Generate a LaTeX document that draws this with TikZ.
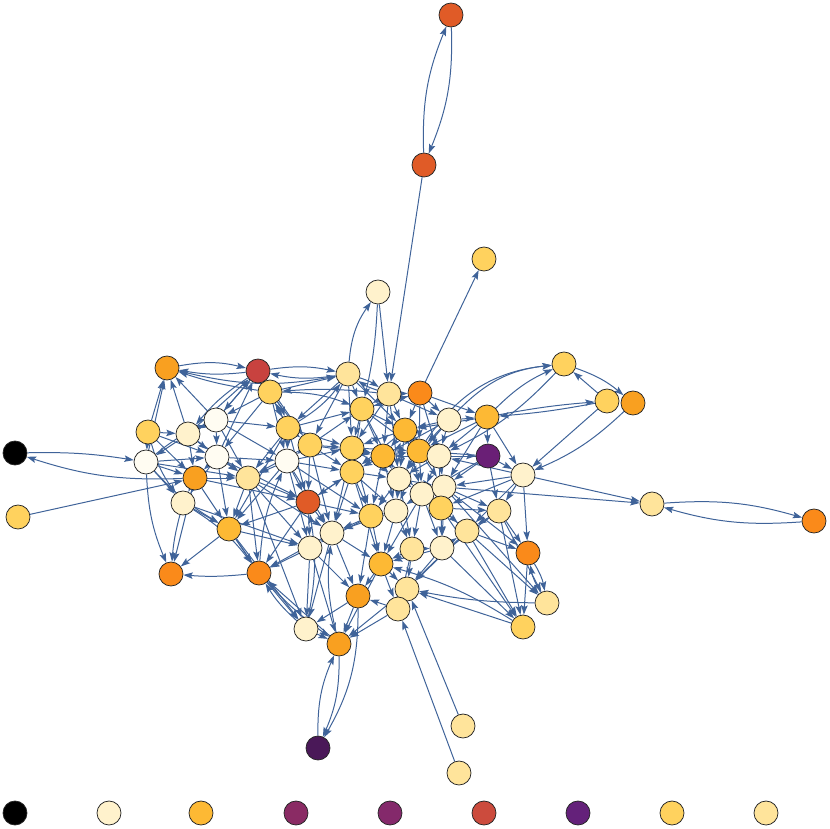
\documentclass[tikz,border=0pt]{standalone}
\usetikzlibrary{arrows.meta,backgrounds}

\definecolor{linkblue}{HTML}{3F6399}
\definecolor{cwhite}{HTML}{FFFCF2}
\definecolor{ccream}{HTML}{FFF2CC}
\definecolor{clight}{HTML}{FFE49B}
\definecolor{cyellow}{HTML}{FFD25E}
\definecolor{cgold}{HTML}{FDB934}
\definecolor{camber}{HTML}{F9A020}
\definecolor{corange}{HTML}{FA8A1A}
\definecolor{cvermil}{HTML}{E05B27}
\definecolor{cred}{HTML}{C8423F}
\definecolor{cpurple}{HTML}{6A1F76}
\definecolor{cplum}{HTML}{4A1858}
\definecolor{cmagenta}{HTML}{8A2B64}
\definecolor{cmagentb}{HTML}{84296B}
\definecolor{credb}{HTML}{CC4B3D}
\definecolor{cpurpleb}{HTML}{64217A}

\begin{document}
\begin{tikzpicture}[x=0.03cm, y=-0.03cm,
    vertex/.style={circle, draw=black!85, line width=0.65pt, minimum size=0.72cm, inner sep=0pt},
    link/.style={draw=linkblue, line width=0.85pt, -{Stealth[length=8pt,width=5.5pt,inset=1.5pt]}}]
    \useasboundingbox (0,0) rectangle (830,828);

    \node[vertex, fill=cvermil] (v1) at (451, 15) {};
    \node[vertex, fill=cvermil] (v2) at (424, 165) {};
    \node[vertex, fill=cyellow] (v3) at (484, 259) {};
    \node[vertex, fill=ccream] (v4) at (378, 292) {};
    \node[vertex, fill=camber] (v5) at (167, 368) {};
    \node[vertex, fill=cred] (v6) at (258, 371) {};
    \node[vertex, fill=cyellow] (v7) at (270, 392) {};
    \node[vertex, fill=clight] (v8) at (348, 374) {};
    \node[vertex, fill=clight] (v9) at (389, 394) {};
    \node[vertex, fill=corange] (v10) at (420, 393) {};
    \node[vertex, fill=cyellow] (v11) at (564, 364) {};
    \node[vertex, fill=cyellow] (v12) at (607, 401) {};
    \node[vertex, fill=camber] (v13) at (633, 403) {};
    \node[vertex, fill=cyellow] (v14) at (362, 409) {};
    \node[vertex, fill=ccream] (v15) at (449, 420) {};
    \node[vertex, fill=cgold] (v16) at (487, 417) {};
    \node[vertex, fill=cwhite] (v17) at (216, 420) {};
    \node[vertex, fill=cyellow] (v18) at (148, 432) {};
    \node[vertex, fill=ccream] (v19) at (188, 434) {};
    \node[vertex, fill=cyellow] (v20) at (288, 428) {};
    \node[vertex, fill=cyellow] (v21) at (310, 445) {};
    \node[vertex, fill=cgold] (v22) at (405, 430) {};
    \node[vertex, fill=black] (v23) at (15, 453) {};
    \node[vertex, fill=cwhite] (v24) at (146, 462) {};
    \node[vertex, fill=cwhite] (v25) at (217, 457) {};
    \node[vertex, fill=cwhite] (v26) at (287, 461) {};
    \node[vertex, fill=cyellow] (v27) at (352, 448) {};
    \node[vertex, fill=cgold] (v28) at (383, 456) {};
    \node[vertex, fill=cgold] (v29) at (419, 451) {};
    \node[vertex, fill=ccream] (v30) at (439, 456) {};
    \node[vertex, fill=cpurple] (v31) at (488, 456) {};
    \node[vertex, fill=cyellow] (v32) at (352, 472) {};
    \node[vertex, fill=ccream] (v33) at (399, 479) {};
    \node[vertex, fill=ccream] (v34) at (523, 475) {};
    \node[vertex, fill=camber] (v35) at (195, 478) {};
    \node[vertex, fill=clight] (v36) at (248, 478) {};
    \node[vertex, fill=ccream] (v37) at (422, 494) {};
    \node[vertex, fill=ccream] (v38) at (444, 487) {};
    \node[vertex, fill=ccream] (v39) at (183, 503) {};
    \node[vertex, fill=cvermil] (v40) at (308, 502) {};
    \node[vertex, fill=cyellow] (v41) at (18, 517) {};
    \node[vertex, fill=cyellow] (v42) at (441, 508) {};
    \node[vertex, fill=clight] (v43) at (499, 511) {};
    \node[vertex, fill=cyellow] (v44) at (371, 516) {};
    \node[vertex, fill=ccream] (v45) at (396, 511) {};
    \node[vertex, fill=ccream] (v46) at (332, 533) {};
    \node[vertex, fill=cgold] (v47) at (229, 529) {};
    \node[vertex, fill=clight] (v48) at (652, 504) {};
    \node[vertex, fill=corange] (v49) at (814, 521) {};
    \node[vertex, fill=ccream] (v50) at (310, 548) {};
    \node[vertex, fill=clight] (v51) at (412, 549) {};
    \node[vertex, fill=ccream] (v52) at (442, 548) {};
    \node[vertex, fill=clight] (v53) at (467, 531) {};
    \node[vertex, fill=cgold] (v54) at (381, 564) {};
    \node[vertex, fill=corange] (v55) at (528, 553) {};
    \node[vertex, fill=corange] (v56) at (171, 574) {};
    \node[vertex, fill=corange] (v57) at (259, 573) {};
    \node[vertex, fill=camber] (v58) at (358, 596) {};
    \node[vertex, fill=clight] (v59) at (407, 589) {};
    \node[vertex, fill=clight] (v60) at (398, 609) {};
    \node[vertex, fill=clight] (v61) at (547, 603) {};
    \node[vertex, fill=cyellow] (v62) at (523, 627) {};
    \node[vertex, fill=ccream] (v63) at (306, 629) {};
    \node[vertex, fill=camber] (v64) at (339, 644) {};
    \node[vertex, fill=cplum] (v65) at (318, 748) {};
    \node[vertex, fill=clight] (v66) at (463, 726) {};
    \node[vertex, fill=clight] (v67) at (459, 773) {};

    \node[vertex, fill=black] (l1) at (15, 813) {};
    \node[vertex, fill=ccream] (l2) at (109, 813) {};
    \node[vertex, fill=cgold] (l3) at (201, 813) {};
    \node[vertex, fill=cmagenta] (l4) at (296, 813) {};
    \node[vertex, fill=cmagentb] (l5) at (390, 813) {};
    \node[vertex, fill=credb] (l6) at (484, 813) {};
    \node[vertex, fill=cpurpleb] (l7) at (578, 813) {};
    \node[vertex, fill=cyellow] (l8) at (672, 813) {};
    \node[vertex, fill=clight] (l9) at (766, 813) {};

    \begin{scope}[on background layer]
    \draw[link] (v2) to[bend left=12] (v1);
    \draw[link] (v1) to[bend left=12] (v2);
    \draw[link] (v2) -- (v9);
    \draw[link] (v10) -- (v3);
    \draw[link] (v8) to[bend left=15] (v4);
    \draw[link] (v4) -- (v9);
    \draw[link] (v4) to[bend left=5] (v14);
    \draw[link] (v23) to[bend left=5] (v24);
    \draw[link] (v35) to[bend left=10] (v23);
    \draw[link] (v41) -- (v35);
    \draw[link] (v34) -- (v48);
    \draw[link] (v38) -- (v48);
    \draw[link] (v48) to[bend left=10] (v49);
    \draw[link] (v49) to[bend left=10] (v48);
    \draw[link] (v34) -- (v55);
    \draw[link] (v16) to[bend left=3] (v12);
    \draw[link] (v12) to[bend left=3] (v16);
    \draw[link] (v12) -- (v11);
    \draw[link] (v11) to[bend left=10] (v13);
    \draw[link] (v13) to[bend left=10] (v34);
    \draw[link] (v12) -- (v34);
    \draw[link] (v15) to[bend left=20] (v11);
    \draw[link] (v16) to[bend left=10] (v11);
    \draw[link] (v11) to[bend left=10] (v30);
    \draw[link] (v29) to[bend left=25] (v11);
    \draw[link] (v55) to[bend left=10] (v61);
    \draw[link] (v61) to[bend left=10] (v55);
    \draw[link] (v55) -- (v62);
    \draw[link] (v61) to[bend left=5] (v59);
    \draw[link] (v62) -- (v59);
    \draw[link] (v43) -- (v62);
    \draw[link] (v53) -- (v62);
    \draw[link] (v52) -- (v62);
    \draw[link] (v43) -- (v61);
    \draw[link] (v42) -- (v61);
    \draw[link] (v38) -- (v55);
    \draw[link] (v43) -- (v55);
    \draw[link] (v53) -- (v55);
    \draw[link] (v66) -- (v59);
    \draw[link] (v67) -- (v60);
    \draw[link] (v65) to[bend left=12] (v64);
    \draw[link] (v64) to[bend left=12] (v65);
    \draw[link] (v58) to[bend left=15] (v65);
    \draw[link] (v39) to[bend right=5] (v56);
    \draw[link] (v24) to[bend right=10] (v56);
    \draw[link] (v47) -- (v56);
    \draw[link] (v35) -- (v56);
    \draw[link] (v57) to[bend left=5] (v56);
    \draw[link] (v57) -- (v63);
    \draw[link] (v64) -- (v57);
    \draw[link] (v63) to[bend left=8] (v57);
    \draw[link] (v36) -- (v57);
    \draw[link] (v40) -- (v57);
    \draw[link] (v47) -- (v57);
    \draw[link] (v46) -- (v57);
    \draw[link] (v50) -- (v57);
    \draw[link] (v18) -- (v5);
    \draw[link] (v24) -- (v5);
    \draw[link] (v17) -- (v5);
    \draw[link] (v19) -- (v5);
    \draw[link] (v5) to[bend left=12] (v6);
    \draw[link] (v6) to[bend left=8] (v5);
    \draw[link] (v7) to[bend left=5] (v5);
    \draw[link] (v6) to[bend left=10] (v8);
    \draw[link] (v8) to[bend left=10] (v6);
    \draw[link] (v9) to[bend right=5] (v7);
    \draw[link] (v7) -- (v8);
    \draw[link] (v5) to[bend right=12] (v8);
    \draw[link] (v17) -- (v6);
    \draw[link] (v19) -- (v6);
    \draw[link] (v25) -- (v6);
    \draw[link] (v7) -- (v6);
    \draw[link] (v9) -- (v14);
    \draw[link] (v9) -- (v22);
    \draw[link] (v9) -- (v28);
    \draw[link] (v9) -- (v15);
    \draw[link] (v9) -- (v27);
    \draw[link] (v10) -- (v15);
    \draw[link] (v10) -- (v22);
    \draw[link] (v10) -- (v29);
    \draw[link] (v14) -- (v10);
    \draw[link] (v14) -- (v22);
    \draw[link] (v14) -- (v27);
    \draw[link] (v14) -- (v28);
    \draw[link] (v20) -- (v14);
    \draw[link] (v21) -- (v14);
    \draw[link] (v8) -- (v14);
    \draw[link] (v8) -- (v27);
    \draw[link] (v8) -- (v22);
    \draw[link] (v15) -- (v16);
    \draw[link] (v15) -- (v30);
    \draw[link] (v16) -- (v29);
    \draw[link] (v16) -- (v30);
    \draw[link] (v16) -- (v31);
    \draw[link] (v31) -- (v28);
    \draw[link] (v31) -- (v29);
    \draw[link] (v31) -- (v34);
    \draw[link] (v34) -- (v30);
    \draw[link] (v34) -- (v38);
    \draw[link] (v34) -- (v42);
    \draw[link] (v34) -- (v43);
    \draw[link] (v17) -- (v19);
    \draw[link] (v17) -- (v20);
    \draw[link] (v17) -- (v25);
    \draw[link] (v18) -- (v19);
    \draw[link] (v18) -- (v24);
    \draw[link] (v19) -- (v24);
    \draw[link] (v19) -- (v25);
    \draw[link] (v24) -- (v25);
    \draw[link] (v24) -- (v35);
    \draw[link] (v24) -- (v39);
    \draw[link] (v18) -- (v35);
    \draw[link] (v20) -- (v21);
    \draw[link] (v20) -- (v26);
    \draw[link] (v20) -- (v7);
    \draw[link] (v7) -- (v21);
    \draw[link] (v7) -- (v25);
    \draw[link] (v7) -- (v17);
    \draw[link] (v7) to[bend left=10] (v14);
    \draw[link] (v6) -- (v20);
    \draw[link] (v20) to[bend right=10] (v8);
    \draw[link] (v21) -- (v26);
    \draw[link] (v21) -- (v27);
    \draw[link] (v21) -- (v28);
    \draw[link] (v21) -- (v40);
    \draw[link] (v22) -- (v27);
    \draw[link] (v22) -- (v28);
    \draw[link] (v22) -- (v29);
    \draw[link] (v22) -- (v30);
    \draw[link] (v22) -- (v33);
    \draw[link] (v25) -- (v35);
    \draw[link] (v25) -- (v36);
    \draw[link] (v25) -- (v26);
    \draw[link] (v26) -- (v36);
    \draw[link] (v26) -- (v40);
    \draw[link] (v26) -- (v32);
    \draw[link] (v26) -- (v27);
    \draw[link] (v27) -- (v32);
    \draw[link] (v27) -- (v28);
    \draw[link] (v28) -- (v33);
    \draw[link] (v28) -- (v32);
    \draw[link] (v29) -- (v30);
    \draw[link] (v29) -- (v33);
    \draw[link] (v29) -- (v38);
    \draw[link] (v30) -- (v38);
    \draw[link] (v30) -- (v37);
    \draw[link] (v32) -- (v40);
    \draw[link] (v32) -- (v44);
    \draw[link] (v32) -- (v46);
    \draw[link] (v33) -- (v37);
    \draw[link] (v33) -- (v44);
    \draw[link] (v33) -- (v45);
    \draw[link] (v37) -- (v42);
    \draw[link] (v37) -- (v45);
    \draw[link] (v38) -- (v42);
    \draw[link] (v38) -- (v43);
    \draw[link] (v42) -- (v43);
    \draw[link] (v42) -- (v53);
    \draw[link] (v35) -- (v36);
    \draw[link] (v35) -- (v39);
    \draw[link] (v35) -- (v47);
    \draw[link] (v36) -- (v47);
    \draw[link] (v36) -- (v40);
    \draw[link] (v39) -- (v47);
    \draw[link] (v40) -- (v46);
    \draw[link] (v40) -- (v50);
    \draw[link] (v40) -- (v47);
    \draw[link] (v44) -- (v46);
    \draw[link] (v44) -- (v54);
    \draw[link] (v45) -- (v51);
    \draw[link] (v45) -- (v54);
    \draw[link] (v46) -- (v50);
    \draw[link] (v46) -- (v54);
    \draw[link] (v50) -- (v63);
    \draw[link] (v50) -- (v64);
    \draw[link] (v51) -- (v54);
    \draw[link] (v51) -- (v59);
    \draw[link] (v52) -- (v53);
    \draw[link] (v52) -- (v59);
    \draw[link] (v42) -- (v52);
    \draw[link] (v54) -- (v58);
    \draw[link] (v54) -- (v59);
    \draw[link] (v58) -- (v64);
    \draw[link] (v59) -- (v60);
    \draw[link] (v60) -- (v58);
    \draw[link] (v58) -- (v63);
    \draw[link] (v63) -- (v64);
    \draw[link] (v60) -- (v64);
    \draw[link] (v59) -- (v64);
    \draw[link] (v54) -- (v64);
    \draw[link] (v47) -- (v50);
    \draw[link] (v36) -- (v50);
    \draw[link] (v28) -- (v45);
    \draw[link] (v27) -- (v44);
    \draw[link] (v37) -- (v51);
    \draw[link] (v38) -- (v52);
    \draw[link] (v15) -- (v29);
    \draw[link] (v15) -- (v22);
    \draw[link] (v16) -- (v38);
    \draw[link] (v31) -- (v37);
    \draw[link] (v20) -- (v47);
    \draw[link] (v26) -- (v47);
    \draw[link] (v39) to[bend left=10] (v57);
    \draw[link] (v57) to[bend left=10] (v26);
    \draw[link] (v63) to[bend right=10] (v40);
    \draw[link] (v64) to[bend left=10] (v46);
    \draw[link] (v62) to[bend right=8] (v54);
    \draw[link] (v43) to[bend right=5] (v59);
    \draw[link] (v24) to[bend left=8] (v17);
    \draw[link] (v17) -- (v26);
    \draw[link] (v17) -- (v36);
    \draw[link] (v18) -- (v25);
    \draw[link] (v18) to[bend right=10] (v39);
    \draw[link] (v19) -- (v35);
    \draw[link] (v19) -- (v36);
    \draw[link] (v24) -- (v36);
    \draw[link] (v24) to[bend right=8] (v47);
    \draw[link] (v25) -- (v39);
    \draw[link] (v25) -- (v47);
    \draw[link] (v25) -- (v40);
    \draw[link] (v26) -- (v50);
    \draw[link] (v26) -- (v46);
    \draw[link] (v20) -- (v40);
    \draw[link] (v20) -- (v27);
    \draw[link] (v20) -- (v36);
    \draw[link] (v21) -- (v32);
    \draw[link] (v21) -- (v36);
    \draw[link] (v7) -- (v26);
    \draw[link] (v7) to[bend left=10] (v20);
    \draw[link] (v6) -- (v21);
    \draw[link] (v6) -- (v17);
    \draw[link] (v6) to[bend right=8] (v19);
    \draw[link] (v8) -- (v20);
    \draw[link] (v8) -- (v21);
    \draw[link] (v8) to[bend left=8] (v9);
    \draw[link] (v9) to[bend left=8] (v8);
    \draw[link] (v9) -- (v10);
    \draw[link] (v10) -- (v14);
    \draw[link] (v14) -- (v29);
    \draw[link] (v14) -- (v33);
    \draw[link] (v22) -- (v32);
    \draw[link] (v22) -- (v37);
    \draw[link] (v27) -- (v33);
    \draw[link] (v27) -- (v46);
    \draw[link] (v27) -- (v29);
    \draw[link] (v28) -- (v29);
    \draw[link] (v28) -- (v37);
    \draw[link] (v28) -- (v44);
    \draw[link] (v29) -- (v37);
    \draw[link] (v29) -- (v45);
    \draw[link] (v30) -- (v42);
    \draw[link] (v30) -- (v33);
    \draw[link] (v32) -- (v33);
    \draw[link] (v32) -- (v45);
    \draw[link] (v33) -- (v38);
    \draw[link] (v33) -- (v51);
    \draw[link] (v37) -- (v52);
    \draw[link] (v37) -- (v54);
    \draw[link] (v44) -- (v45);
    \draw[link] (v44) -- (v50);
    \draw[link] (v45) -- (v46);
    \draw[link] (v46) -- (v58);
    \draw[link] (v46) -- (v63);
    \draw[link] (v50) -- (v58);
    \draw[link] (v51) -- (v52);
    \draw[link] (v51) -- (v60);
    \draw[link] (v52) -- (v54);
    \draw[link] (v53) -- (v59);
    \draw[link] (v54) -- (v60);
    \draw[link] (v40) -- (v32);
    \draw[link] (v40) -- (v44);
    \draw[link] (v36) -- (v46);
    \draw[link] (v47) -- (v63);
    \draw[link] (v47) to[bend right=10] (v64);
    \draw[link] (v36) -- (v63);
    \draw[link] (v39) -- (v50);
    \draw[link] (v35) -- (v40);
    \draw[link] (v15) -- (v28);
    \draw[link] (v15) -- (v33);
    \draw[link] (v16) -- (v22);
    \draw[link] (v16) -- (v34);
    \draw[link] (v30) -- (v31);
    \draw[link] (v31) -- (v38);
    \draw[link] (v31) -- (v43);
    \draw[link] (v34) -- (v53);
    \draw[link] (v43) -- (v53);
    \draw[link] (v42) -- (v62);
    \draw[link] (v38) -- (v61);
    \draw[link] (v44) -- (v58);
    \draw[link] (v32) -- (v54);
    \draw[link] (v21) -- (v46);
    \draw[link] (v26) -- (v44);
    \draw[link] (v14) -- (v32);
    \draw[link] (v9) -- (v33);
    \draw[link] (v10) -- (v30);
    \draw[link] (v10) -- (v16);
    \end{scope}
\end{tikzpicture}
\end{document}
